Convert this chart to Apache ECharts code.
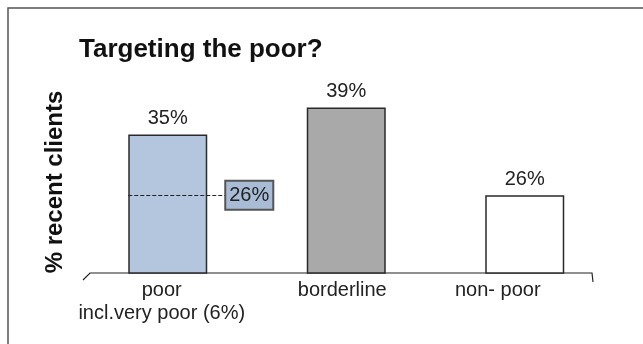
<!DOCTYPE html>
<html>
<head>
<meta charset="utf-8">
<script src="https://cdn.jsdelivr.net/npm/echarts@6/dist/echarts.min.js"></script>
<style>
  html, body { margin: 0; padding: 0; background: #fff; }
  #chart { width: 643px; height: 344px; }
</style>
</head>
<body>
<div id="chart"></div>
<script>
// data
const categories = ['poor\nincl.very poor (6%)', 'borderline', 'non- poor']
const shares = [35, 39, 26]
const veryPoorLevel = 26 // dashed marker inside the "poor" bar

const barColors = ['#b4c6de', '#a9a9a9', '#ffffff']
// category labels sit a bit left of their bars in the original
const labelShift = [12, 8, 54]

const font = 'Arial, "Liberation Sans", sans-serif'
const barWidth = 79

const chart = echarts.init(document.getElementById('chart'))

function buildOption(marker) {
  return {
    animation: false,
    textStyle: { fontFamily: font },
    title: {
      text: 'Targeting the poor?',
      left: 74,
      top: 32,
      textStyle: { fontSize: 26, fontWeight: 'bold', color: '#111', fontFamily: font }
    },
    grid: { left: 78.5, right: 29, top: 40, bottom: 71 },
    xAxis: {
      type: 'category',
      data: categories.map((c, i) => ({
        value: c,
        textStyle: { padding: [0, labelShift[i], 0, 0] }
      })),
      axisLine: { show: false },
      axisTick: { show: false },
      axisLabel: {
        interval: 0,
        hideOverlap: false,
        margin: 6,
        fontSize: 20,
        lineHeight: 23,
        color: '#222',
        fontFamily: font
      }
    },
    yAxis: {
      type: 'value',
      min: 14.5,
      max: 49,
      show: false
    },
    series: [
      {
        type: 'bar',
        barWidth: barWidth,
        data: shares.map((v, i) => ({
          value: v,
          itemStyle: { color: barColors[i] }
        })),
        itemStyle: { borderColor: '#2a2a2a', borderWidth: 1.5 },
        label: {
          show: true,
          position: 'top',
          distance: 6,
          fontSize: 20,
          color: '#222',
          fontFamily: font,
          formatter: '{c}%'
        },
        markLine: marker ? {
          silent: true,
          symbol: 'none',
          lineStyle: { type: 'dashed', color: '#222', width: 1 },
          label: {
            show: true,
            position: 'end',
            distance: 0,
            formatter: veryPoorLevel + '%',
            fontSize: 20,
            color: '#222',
            fontFamily: font,
            backgroundColor: '#a9bcd6',
            borderColor: '#555',
            borderWidth: 2,
            padding: [4, 3, 3, 3]
          },
          data: [[
            { coord: [0, veryPoorLevel], x: marker.from },
            { coord: [0, veryPoorLevel], x: marker.to }
          ]]
        } : undefined
      }
    ],
    graphic: marker ? [
      {
        type: 'rect',
        z: -1,
        shape: { x: 8, y: 8, width: 700, height: 400 },
        style: { fill: 'none', stroke: '#555', lineWidth: 1.5 }
      },
      {
        type: 'polyline',
        shape: {
          points: [[83, marker.base + 7], [90, marker.base], [592, marker.base], [593, marker.base + 9]]
        },
        style: { fill: 'none', stroke: '#222', lineWidth: 1.2 }
      },
      {
        type: 'text',
        x: 55,
        y: 182,
        rotation: Math.PI / 2,
        style: {
          text: '% recent clients',
          font: 'bold 24px ' + font,
          fill: '#111',
          align: 'center',
          verticalAlign: 'middle'
        }
      }
    ] : []
  }
}

chart.setOption(buildOption(null))
// place the 26% marker from the bar's own position
const poorCenter = chart.convertToPixel({ xAxisIndex: 0 }, 0)
const base = chart.convertToPixel({ yAxisIndex: 0 }, 14.5)
chart.setOption(buildOption({
  from: poorCenter - barWidth / 2,
  to: poorCenter + barWidth / 2 + 19,
  base: base
}), true)
</script>
</body>
</html>
